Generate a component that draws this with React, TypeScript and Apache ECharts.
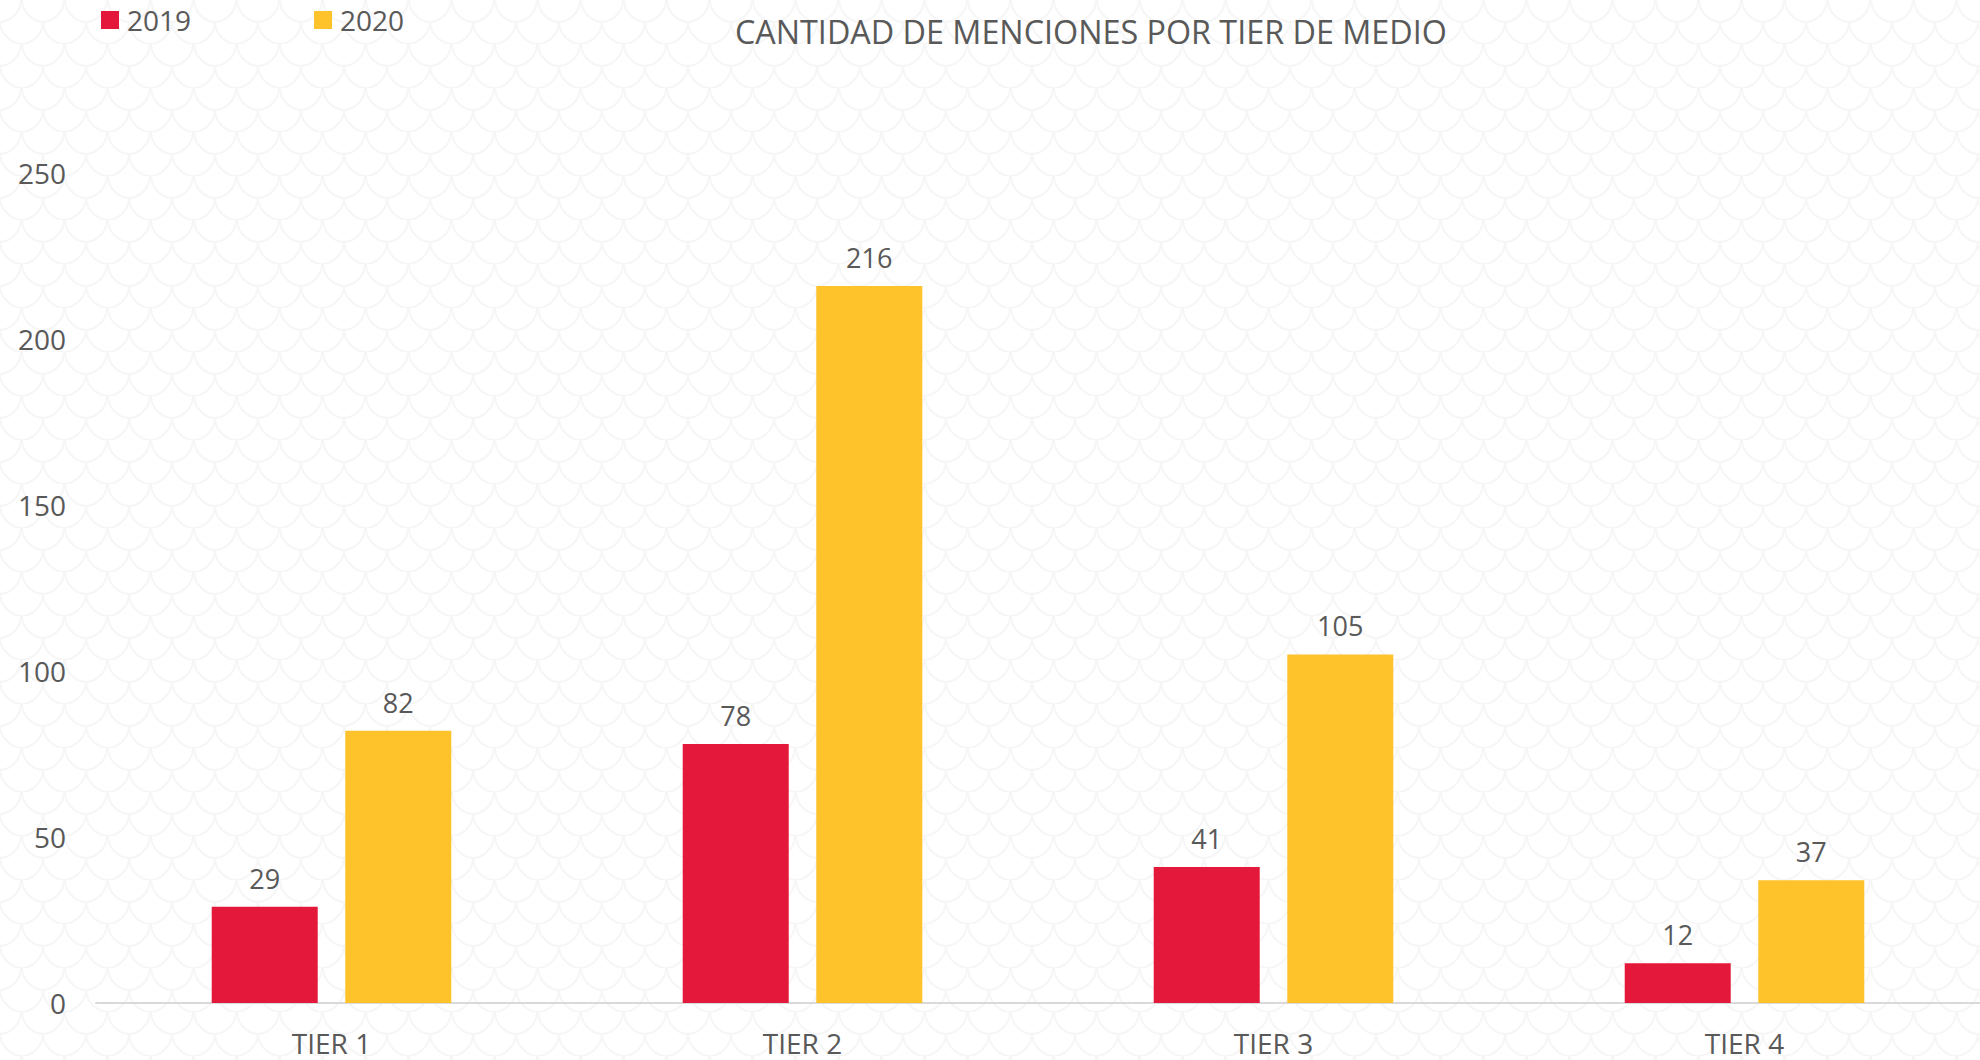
import React, { useEffect, useRef } from "react";
import * as echarts from "echarts";

const categories = ["TIER 1", "TIER 2", "TIER 3", "TIER 4"];
const values2019 = [29, 78, 41, 12];
const values2020 = [82, 216, 105, 37];
const seriesNames = ["2019", "2020"];
const titleText = "CANTIDAD DE MENCIONES POR TIER DE MEDIO";

const FONT = "'Open Sans', sans-serif";
const TEXT = "#595959";

const tileSvg =
  "<svg xmlns='http://www.w3.org/2000/svg' width='86' height='44'>" +
  "<rect width='86' height='44' fill='#ffffff'/>" +
  "<g fill='none' stroke='#f6f6f6' stroke-width='2'>" +
  "<path d='M0,22 C10,22 21,12 21,0 M43,22 C33,22 22,12 22,0'/>" +
  "<path d='M43,22 C53,22 64,12 64,0 M86,22 C76,22 65,12 65,0'/>" +
  "<path d='M22,44 C32,44 43,34 43,22 M64,44 C54,44 43,34 43,22'/>" +
  "<path d='M64,44 C74,44 86,34 86,22 M22,44 C12,44 0,34 0,22'/>" +
  "</g></svg>";
const tileUrl = "data:image/svg+xml;charset=utf-8," + encodeURIComponent(tileSvg);

export default function App() {
  const ref = useRef<HTMLDivElement>(null);
  useEffect(() => {
    if (!ref.current) return;
    const chart = echarts.init(ref.current, undefined, { renderer: "svg" });
    const labelStyle = {
      show: true,
      position: "top" as const,
      distance: 15,
      color: TEXT,
      fontSize: 27,
      fontFamily: FONT,
    };
    chart.setOption({
      animation: false,
      backgroundColor: "transparent",
      textStyle: { fontFamily: FONT },
      title: {
        text: titleText,
        left: 735,
        top: 15,
        padding: 0,
        textStyle: { color: TEXT, fontSize: 32.3, fontWeight: "normal", fontFamily: FONT },
      },
      legend: {
        left: 101,
        top: 6,
        padding: 0,
        itemWidth: 18,
        itemHeight: 18,
        itemGap: 123,
        icon: "rect",
        data: seriesNames,
        textStyle: { color: TEXT, fontSize: 28, fontFamily: FONT, padding: [0, 0, 0, 3] },
      },
      grid: { left: 96, right: 0, top: 173, bottom: 57, containLabel: false },
      xAxis: {
        type: "category",
        data: categories,
        axisLine: { show: true, lineStyle: { color: "#D9D9D9", width: 2 } },
        axisTick: { show: false },
        axisLabel: { color: TEXT, fontSize: 28, fontFamily: FONT, margin: 26 },
      },
      yAxis: {
        type: "value",
        min: 0,
        max: 250,
        interval: 50,
        axisLine: { show: false },
        axisTick: { show: false },
        splitLine: { show: false },
        axisLabel: { color: TEXT, fontSize: 28, fontFamily: FONT, margin: 30 },
      },
      series: [
        {
          name: seriesNames[0],
          type: "bar",
          data: values2019,
          barWidth: 106,
          barGap: "26%",
          itemStyle: { color: "#E4183A" },
          label: labelStyle,
        },
        {
          name: seriesNames[1],
          type: "bar",
          data: values2020,
          barWidth: 106,
          barGap: "26%",
          itemStyle: { color: "#FEC22A" },
          label: labelStyle,
        },
      ],
    });
    return () => chart.dispose();
  }, []);
  return (
    <div
      style={{
        position: "absolute",
        left: 0,
        top: 0,
        width: 1980,
        height: 1060,
        backgroundColor: "#ffffff",
        backgroundImage: `url("${tileUrl}")`,
        backgroundRepeat: "repeat",
      }}
    >
      <div ref={ref} style={{ width: 1980, height: 1060 }} />
    </div>
  );
}
